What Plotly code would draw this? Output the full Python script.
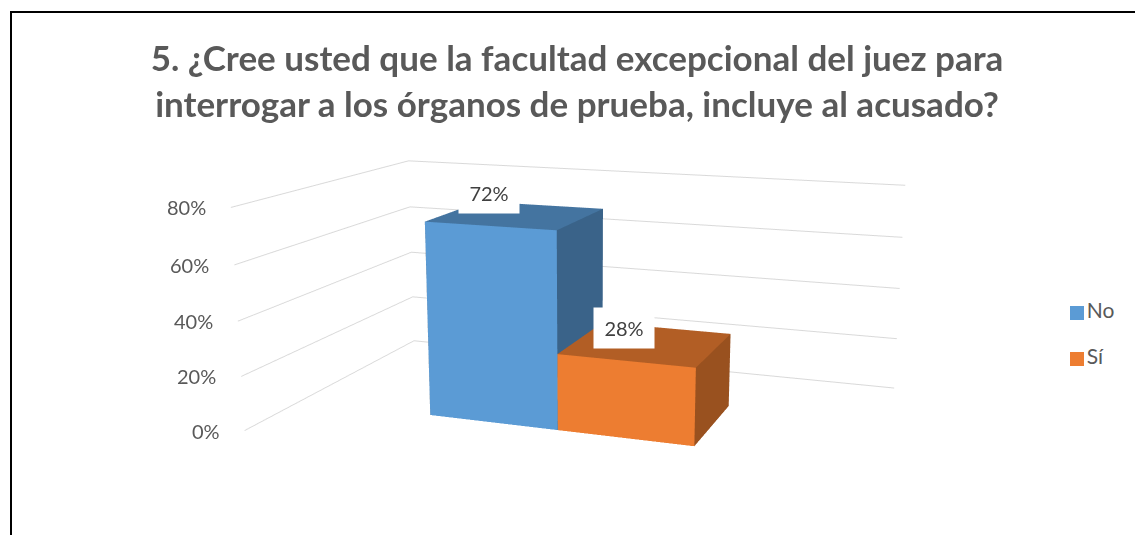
import plotly.graph_objects as go

TITLE = "5. ¿Cree usted que la facultad excepcional del juez para<br>interrogar a los órganos de prueba, incluye al acusado?"
categories = ["No", "Sí"]
values = [72, 28]
labels = ["72%", "28%"]
z_ticks = [0, 20, 40, 60, 80]
z_tick_labels = ["0%", "20%", "40%", "60%", "80%"]

W, H = 1135, 535
# the gl3d field of view is fixed, a taller plot with its top cut off gives the flat perspective of the original
TALL = 1120
TOP_CUT = 256
GREY = "#595959"
FRONT = ["#5B9BD5", "#ED7D31"]
TOP = ["#4474A0", "#B25E25"]
SIDE = ["#3A6389", "#99511F"]
LABEL_XSHIFT = [-16, -4]
LABEL_YSHIFT = [10, -3]
X_RANGE = [-1.076, 3.10]
Y_RANGE = [-0.80, 1.933]


def py(y):
    return (y + TOP_CUT)


def add_bar(fig, x0, x1, y0, y1, h, front, top, side):
    # corners: 0-3 floor, 4-7 top
    xs = [x0, x1, x1, x0, x0, x1, x1, x0]
    ys = [y0, y0, y1, y1, y0, y0, y1, y1]
    zs = [0, 0, 0, 0, h, h, h, h]
    i = [0, 0, 4, 4, 1, 1, 0, 0, 3, 3, 0, 0]
    j = [1, 5, 5, 6, 2, 6, 3, 2, 2, 6, 3, 7]
    k = [5, 4, 6, 7, 6, 5, 7, 4, 6, 7, 2, 4]
    colors = [front, front, top, top, side, side, side, side, side, side, side, side]
    fig.add_trace(go.Mesh3d(x=xs, y=ys, z=zs, i=i, j=j, k=k, facecolor=colors, flatshading=True,
                            lighting=dict(ambient=1, diffuse=0, specular=0, fresnel=0, roughness=1),
                            hoverinfo="skip", showscale=False, showlegend=False))


fig = go.Figure()
for n, v in enumerate(values):
    add_bar(fig, n, n + 1, 0, 1, v, FRONT[n], TOP[n], SIDE[n])

# legend drawn on a hidden pixel axis, the real legend keeps too wide a key
fig.add_trace(go.Scatter(x=[1077, 1077], y=[py(313), py(359)], mode="markers+text", text=categories,
                         textposition="middle right", textfont=dict(size=21, color=GREY),
                         marker=dict(symbol="square", size=14, color=FRONT),
                         hoverinfo="skip", showlegend=False, cliponaxis=False))

hidden = dict(showgrid=False, showline=False, zeroline=False, showticklabels=False, ticks="",
              showbackground=False, showspikes=False, title="")

# data labels on the bars
annotations = [
    dict(x=n + 0.2, y=1, z=v, text=labels[n], showarrow=False, bgcolor="white",
         xshift=LABEL_XSHIFT[n], yshift=LABEL_YSHIFT[n],
         width=58, height=38, font=dict(size=20, color="#404040", family="Lato"))
    for n, v in enumerate(values)
]
# z tick labels, the gl3d ones cannot be moved straight to the left
annotations += [
    dict(x=X_RANGE[0], y=Y_RANGE[0], z=t, text=z_tick_labels[n], showarrow=False, xanchor="right",
         xshift=-23, font=dict(size=20, color=GREY, family="Lato"))
    for n, t in enumerate(z_ticks)
]

fig.update_layout(
    width=W, height=TALL, margin=dict(l=0, r=0, t=0, b=0),
    paper_bgcolor="white", plot_bgcolor="white",
    font=dict(family="Lato", color=GREY, size=20),
    title=dict(text=TITLE, x=577 / W, xanchor="center", y=1 - py(71) / TALL, yanchor="middle",
               font=dict(family="Lato", size=35, color=GREY, weight="bold")),
    showlegend=False,
    xaxis=dict(visible=False, range=[0, W]), yaxis=dict(visible=False, range=[TALL, 0]),
    scene=dict(
        domain=dict(x=[36 / W, 1.0], y=[0.0, 1.0]),
        aspectmode="manual", aspectratio=dict(x=1.31, y=0.82, z=0.5),
        xaxis=dict(range=X_RANGE, **hidden),
        yaxis=dict(range=Y_RANGE, **hidden),
        zaxis=dict(range=[0, 80], tickvals=z_ticks, showticklabels=False, showgrid=True,
                   gridcolor="#D9D9D9", gridwidth=2, showline=False, zeroline=False, ticks="",
                   showbackground=False, showspikes=False, title=""),
        camera=dict(eye=dict(x=1.03, y=-2.83, z=0.718), up=dict(x=0, y=0, z=1),
                    center=dict(x=0, y=0, z=0)),
        annotations=annotations,
    ),
    shapes=[dict(type="path", xref="paper", yref="paper",
                 path=f"M {11/W} 0 L {11/W} {1-py(12)/TALL} L 1 {1-py(12)/TALL}",
                 line=dict(color="black", width=2))],
)

fig.write_html("out.html", config=dict(displayModeBar=False),
               post_script=f"document.body.style.margin='0';document.body.style.overflow='hidden';"
                           f"document.documentElement.style.overflow='hidden';"
                           f"document.body.style.marginTop='-{TOP_CUT}px';")
